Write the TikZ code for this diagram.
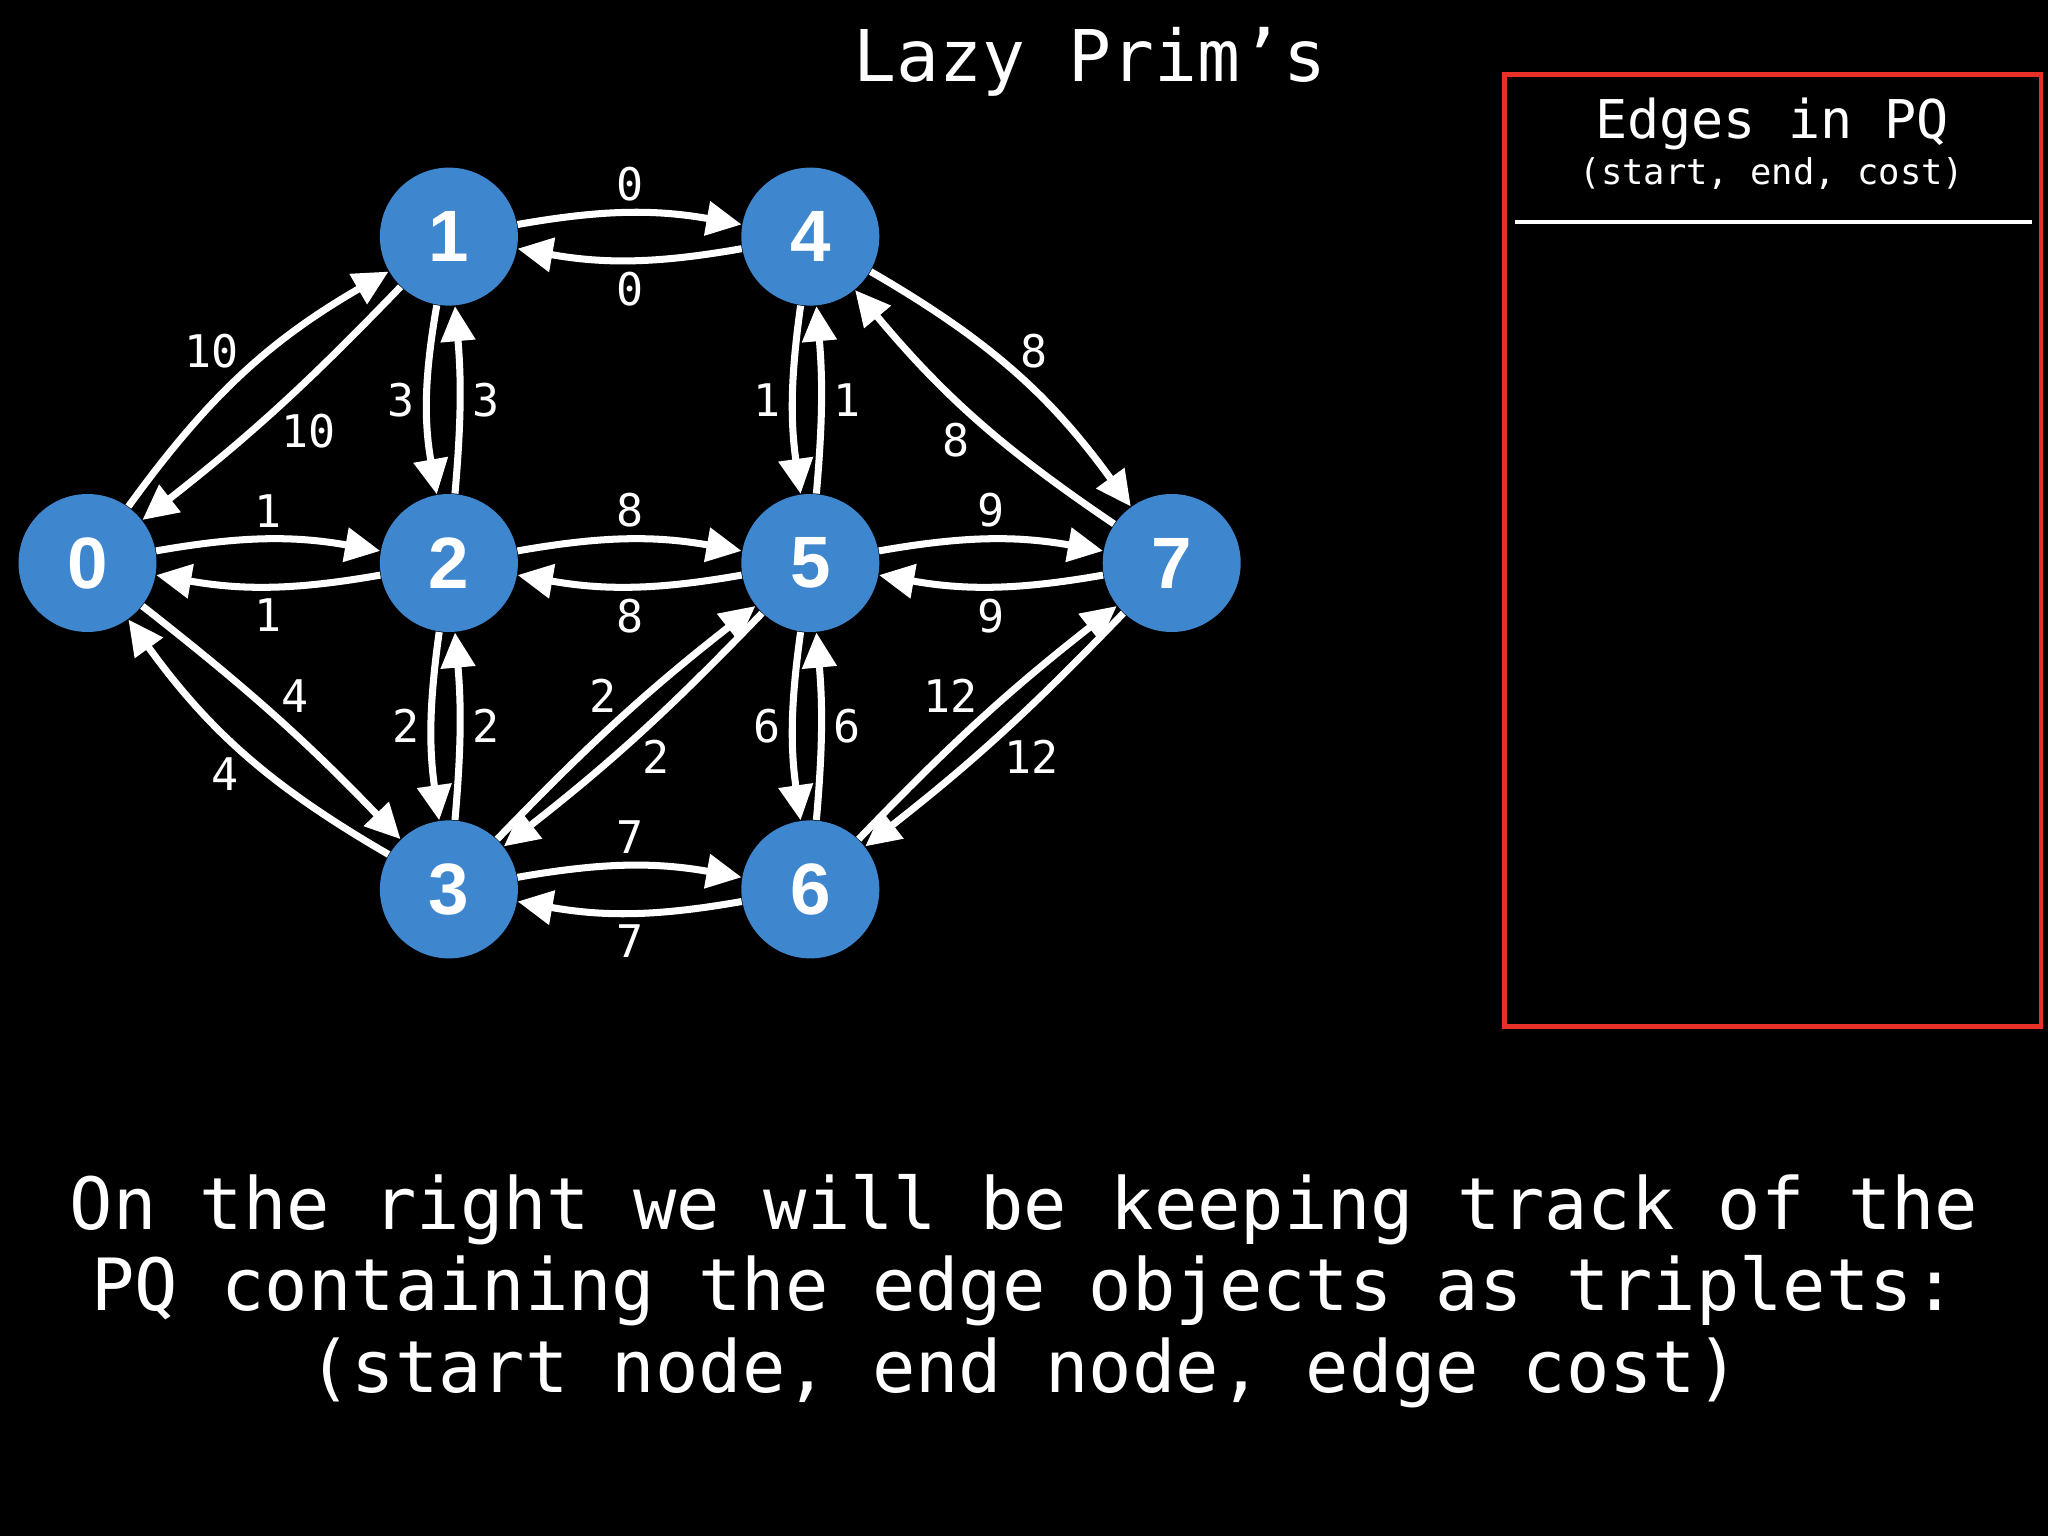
\documentclass[tikz,border=0pt]{standalone}
\usepackage{fontspec}
\setmainfont{Liberation Sans}
\setmonofont{DejaVu Sans Mono}
\usetikzlibrary{arrows.meta, positioning}
\definecolor{primblue}{RGB}{62,134,206}
\definecolor{pqred}{RGB}{232,48,40}
\tikzset{
    primnode/.style={circle, fill=primblue, text=white, minimum size=1.38cm, inner sep=0pt, font=\fontsize{20.7}{24}\selectfont\bfseries},
    primarrow/.style={-{Triangle[length=10pt, width=9.5pt]}, line width=2pt, white},
    primlabel/.style={auto, text=white, inner sep=2.5pt, font=\fontsize{12.8}{15}\selectfont\ttfamily},
    diaglabel/.style={primlabel, inner sep=0.5pt},
    primtext/.style={text=white, font=\ttfamily}
}

\begin{document}
\begin{tikzpicture}[node distance=1.87cm and 2.22cm]
  \fill[black] (0,0) rectangle (20.48,-15.36);
  \useasboundingbox (0,0) rectangle (20.48,-15.36);

  % graph
  \node[primnode] (n0) at (0.875,-5.63) {0};
  \node[primnode, right=of n0] (n2) {2};
  \node[primnode, above=of n2] (n1) {1};
  \node[primnode, below=of n2] (n3) {3};
  \node[primnode, right=of n2] (n5) {5};
  \node[primnode, above=of n5] (n4) {4};
  \node[primnode, below=of n5] (n6) {6};
  \node[primnode, right=of n5] (n7) {7};

  \draw[primarrow] (n0) to[bend left=12] node[diaglabel] {10} (n1);
  \draw[primarrow] (n1) to[bend left=4]  node[diaglabel] {10} (n0);
  \draw[primarrow] (n0) to[bend left=10] node[primlabel] {1} (n2);
  \draw[primarrow] (n2) to[bend left=10] node[primlabel] {1} (n0);
  \draw[primarrow] (n0) to[bend left=4]  node[diaglabel] {4} (n3);
  \draw[primarrow] (n3) to[bend left=12] node[diaglabel] {4} (n0);
  \draw[primarrow] (n1) to[bend left=10] node[primlabel] {0} (n4);
  \draw[primarrow] (n4) to[bend left=10] node[primlabel] {0} (n1);
  \draw[primarrow] (n1) to[bend right=10] node[primlabel, swap] {3} (n2);
  \draw[primarrow] (n2) to[bend right=5]  node[primlabel, swap] {3} (n1);
  \draw[primarrow] (n2) to[bend right=8]  node[primlabel, swap] {2} (n3);
  \draw[primarrow] (n3) to[bend right=5]  node[primlabel, swap] {2} (n2);
  \draw[primarrow] (n2) to[bend left=10] node[primlabel] {8} (n5);
  \draw[primarrow] (n5) to[bend left=10] node[primlabel] {8} (n2);
  \draw[primarrow] (n3) to[bend left=4]  node[diaglabel] {2} (n5);
  \draw[primarrow] (n5) to[bend left=4]  node[diaglabel] {2} (n3);
  \draw[primarrow] (n3) to[bend left=10] node[primlabel] {7} (n6);
  \draw[primarrow] (n6) to[bend left=10] node[primlabel] {7} (n3);
  \draw[primarrow] (n4) to[bend right=8]  node[primlabel, swap] {1} (n5);
  \draw[primarrow] (n5) to[bend right=5]  node[primlabel, swap] {1} (n4);
  \draw[primarrow] (n4) to[bend left=12] node[diaglabel] {8} (n7);
  \draw[primarrow] (n7) to[bend left=8]  node[diaglabel] {8} (n4);
  \draw[primarrow] (n5) to[bend right=8]  node[primlabel, swap] {6} (n6);
  \draw[primarrow] (n6) to[bend right=5]  node[primlabel, swap] {6} (n5);
  \draw[primarrow] (n5) to[bend left=10] node[primlabel] {9} (n7);
  \draw[primarrow] (n7) to[bend left=10] node[primlabel] {9} (n5);
  \draw[primarrow] (n6) to[bend left=4]  node[diaglabel] {12} (n7);
  \draw[primarrow] (n7) to[bend left=4]  node[diaglabel] {12} (n6);

  % title and PQ panel
  \node[primtext, font=\fontsize{20.3}{24}\selectfont\ttfamily] (title) at (10.9,-0.62) {Lazy Prim’s};
  \draw[pqred, line width=1.4pt] (15.045,-0.744) rectangle (20.41,-10.265);
  \node[primtext, font=\fontsize{15.2}{18}\selectfont\ttfamily] (pqhead) at (17.72,-1.24) {Edges in PQ};
  \node[primtext, font=\fontsize{10.1}{12}\selectfont\ttfamily] (pqsub) at (17.72,-1.74) {(start, end, cost)};
  \draw[white, line width=1.1pt] (15.15,-2.22) -- (20.32,-2.22);

  % caption
  \node[primtext, align=center, font=\fontsize{20.5}{23.2}\selectfont\ttfamily] (caption) at (10.24,-12.91)
    {On the right we will be keeping track of the\\PQ containing the edge objects as triplets:\\(start node, end node, edge cost)};
\end{tikzpicture}
\end{document}
